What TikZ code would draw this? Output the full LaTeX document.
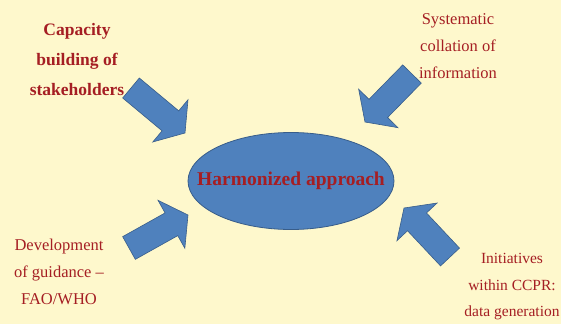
\documentclass[tikz,border=0pt]{standalone}
\usepackage{fontspec}
\setmainfont{Liberation Serif}
\usetikzlibrary{shapes.geometric,calc}
\definecolor{bgcream}{RGB}{254,248,204}
\definecolor{hubblue}{RGB}{79,129,189}
\definecolor{hubline}{RGB}{56,93,138}
\definecolor{labelred}{RGB}{165,30,35}
\tikzset{
  hub/.style={ellipse, fill=hubblue, draw=hubline, line width=0.8pt,
    minimum width=206pt, minimum height=97pt, inner xsep=-24pt, inner ysep=0pt,
    text=labelred, font=\bfseries\fontsize{19.5}{22}\selectfont},
  topic/.style={align=center, text=labelred, font=\fontsize{16.5}{27}\selectfont},
  blockarrow/.style={fill=hubblue, draw=hubline, line width=0.6pt, line join=miter}
}
\begin{document}
\begin{tikzpicture}[x=1pt, y=-1pt, line cap=round]
    % Khung nen
    \useasboundingbox (0,0) rectangle (561,324);
    \fill[bgcream] (0,0) rectangle (561,324);
    % Nut trung tam
    \node[hub] (hub) at (291,181) {Harmonized approach};
    % Bon chu de
    \node[topic, font=\bfseries\fontsize{17.5}{30}\selectfont] (cap) at (77,60) {Capacity\\building of\\stakeholders};
    \node[topic] (sys) at (458,46) {Systematic\\collation of\\information};
    \node[topic] (dev) at (59,272) {Development\\of guidance --\\FAO/WHO};
    \node[topic, font=\fontsize{15.5}{26.5}\selectfont] (ini) at (512,287) {Initiatives\\within CCPR:\\data generation};
    % Dau va mui cua cac mui ten
    \coordinate (cap-a) at (131,88);  \coordinate (cap-b) at (185,133);
    \coordinate (sys-a) at (412,74);  \coordinate (sys-b) at (365,122);
    \coordinate (dev-a) at (129,248); \coordinate (dev-b) at (188,215);
    \coordinate (ini-a) at (450,257); \coordinate (ini-b) at (404,208);
    % Ve 4 mui ten khoi
    \foreach \n in {cap,sys,dev,ini}{
      \coordinate (\n-c) at ($(\n-b)!19pt!(\n-a)$);
      \draw[blockarrow] ($(\n-a)!13pt!90:(\n-b)$) -- ($(\n-c)!13pt!90:(\n-b)$)
        -- ($(\n-c)!27.5pt!90:(\n-b)$) -- (\n-b) -- ($(\n-c)!27.5pt!-90:(\n-b)$)
        -- ($(\n-c)!13pt!-90:(\n-b)$) -- ($(\n-a)!13pt!-90:(\n-b)$) -- cycle;
    }
\end{tikzpicture}
\end{document}
